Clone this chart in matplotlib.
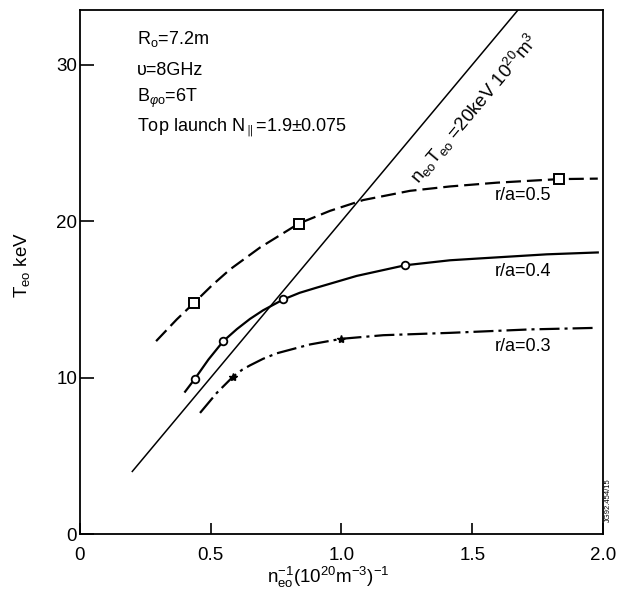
import matplotlib
matplotlib.use("Agg")
import matplotlib.pyplot as plt

plt.rcParams['font.family'] = ['Liberation Sans', 'DejaVu Sans']
plt.rcParams['mathtext.fontset'] = 'custom'
plt.rcParams['mathtext.rm'] = 'Liberation Sans'
plt.rcParams['mathtext.it'] = 'Liberation Sans:italic'
plt.rcParams['lines.scale_dashes'] = False

# curves: x = 1/n_eo, T = T_eo (keV)
x05 = [0.291, 0.370, 0.437, 0.505, 0.574, 0.688, 0.837, 0.956, 1.083, 1.262, 1.415, 1.593, 1.833, 1.98]
T05 = [12.33, 13.72, 14.79, 15.9, 16.92, 18.31, 19.85, 20.66, 21.35, 21.94, 22.22, 22.46, 22.69, 22.72]
x05_mk = [0.437, 0.837, 1.833]
T05_mk = [14.79, 19.85, 22.69]

x04 = [0.402, 0.440, 0.491, 0.548, 0.600, 0.650, 0.700, 0.778, 0.840, 0.905, 1.058, 1.243, 1.415, 1.530, 1.785, 1.98]
T04 = [9.1, 9.94, 11.15, 12.33, 13.1, 13.75, 14.3, 15.0, 15.42, 15.75, 16.5, 17.18, 17.5, 17.62, 17.88, 18.0]
x04_mk = [0.440, 0.548, 0.778, 1.243]
T04_mk = [9.94, 12.33, 15.0, 17.18]

x03 = [0.459, 0.523, 0.584, 0.620, 0.650, 0.700, 0.752, 0.880, 1.0, 1.160, 1.415, 1.721, 1.976]
T03 = [7.74, 9.02, 10.04, 10.5, 10.78, 11.2, 11.55, 12.12, 12.48, 12.71, 12.86, 13.08, 13.18]
x03_mk = [0.584, 1.0]
T03_mk = [10.04, 12.48]

# n_eo T_eo = 20 keV 10^20 m^-3
line_x = [0.2, 1.7]
line_T = [4.0, 34.0]

xticks = [0, 0.5, 1.0, 1.5, 2.0]
xtick_labels = ['0', '0.5', '1.0', '1.5', '2.0']
yticks = [0, 10, 20, 30]

fig = plt.figure(figsize=(6.23, 5.99), dpi=100)
ax = fig.add_axes([0.1284, 0.1085, 0.8395, 0.8748])

ax.plot(line_x, line_T, color='black', lw=1.1)

ax.plot(x05, T05, color='black', lw=1.6, dashes=(10.8, 4.3))
ax.plot(x05_mk, T05_mk, ls='none', marker='s', ms=7, mfc='white', mec='black', mew=1.4)

ax.plot(x04, T04, color='black', lw=1.6)
ax.plot(x04_mk, T04_mk, ls='none', marker='o', ms=5.5, mfc='white', mec='black', mew=1.3)

ax.plot(x03, T03, color='black', lw=1.6, dashes=(14.4, 3.6, 2.2, 3.6))
ax.plot(x03_mk, T03_mk, ls='none', marker='*', ms=6, color='black')

ax.set_xlim(0, 2.0)
ax.set_ylim(0, 33.5)
ax.set_xticks(xticks)
ax.set_xticklabels(xtick_labels)
ax.set_yticks(yticks)
ax.tick_params(axis='x', direction='in', length=8, width=1.2, pad=9, labelsize=13.5)
ax.tick_params(axis='y', direction='in', length=10, width=1.2, pad=2, labelsize=13.5)
for s in ax.spines.values():
    s.set_linewidth(1.3)

ax.text(-0.111, 0.513, r'T$_{\mathrm{eo}}$ keV', transform=ax.transAxes,
        rotation=90, ha='center', va='center', fontsize=13.5)
ax.text(0.475, -0.082, r'n$_{\mathrm{eo}}^{-1}$(10$^{20}$m$^{-3}$)$^{-1}$', transform=ax.transAxes,
        ha='center', va='center', fontsize=13.5)

# parameters block
ax.text(0.109, 0.944, r'R$_{\mathrm{o}}$=7.2m', transform=ax.transAxes, fontsize=13, va='center')
ax.text(0.109, 0.885, 'υ=8GHz', transform=ax.transAxes, fontsize=13, va='center')
ax.text(0.109, 0.832, r'B$_{\varphi\mathrm{o}}$=6T', transform=ax.transAxes, fontsize=13, va='center')
ax.text(0.109, 0.775, r'Top launch N$_{\parallel}$=1.9±0.075', transform=ax.transAxes, fontsize=13, va='center')

ax.text(1.51, 27.2, r'n$_{\mathrm{eo}}$T$_{\mathrm{eo}}$ =20keV 10$^{20}$m$^{3}$',
        rotation=50, ha='center', va='center', fontsize=13.5)

ax.text(1.587, 21.62, 'r/a=0.5', fontsize=13, va='center')
ax.text(1.587, 16.76, 'r/a=0.4', fontsize=13, va='center')
ax.text(1.587, 12.0, 'r/a=0.3', fontsize=13, va='center')

fig.text(608 / 623, 1 - 500 / 599, 'JG92.454/15', rotation=90, ha='center', va='center', fontsize=5.5)

fig.savefig('out.png', dpi=100)
